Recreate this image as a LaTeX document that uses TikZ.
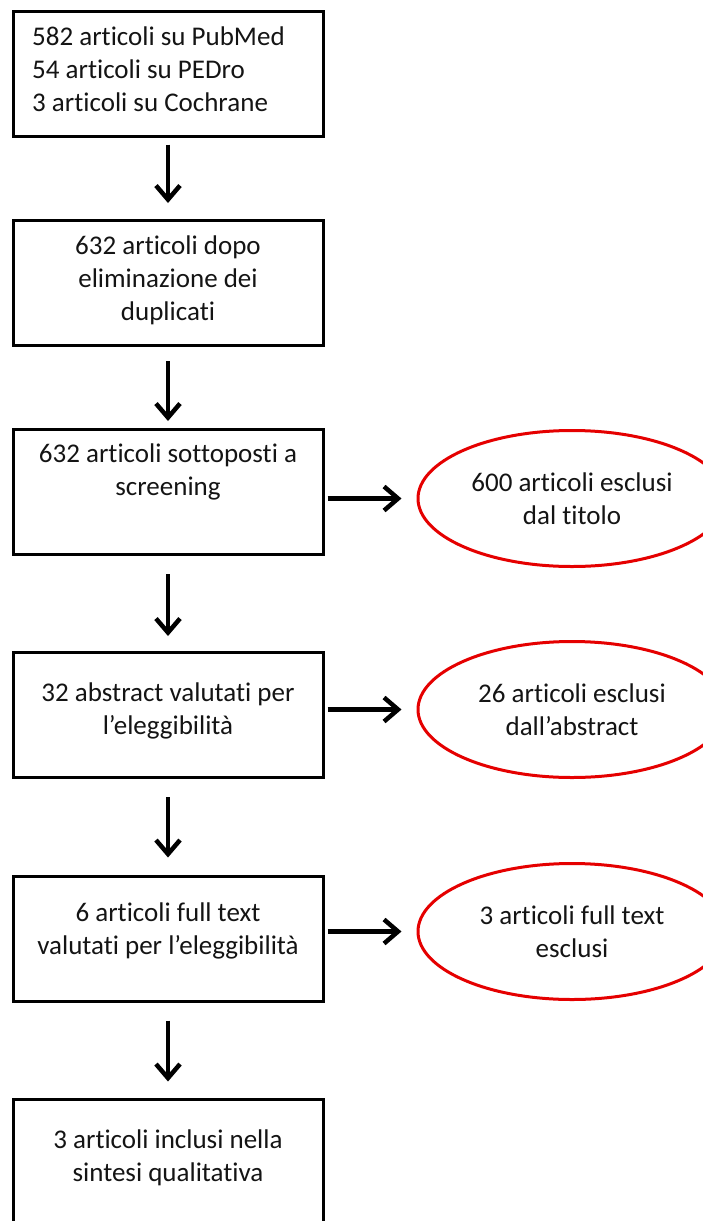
\documentclass[tikz,border=0pt]{standalone}
\usepackage{fontspec}
\setmainfont[Ligatures=NoCommon]{Carlito}
\usetikzlibrary{arrows.meta,shapes.geometric}
\tikzset{
  boxshape/.style={draw=black, line width=3pt, minimum width=310pt, minimum height=125pt, inner sep=0pt},
  boxtext/.style={inner sep=0pt, text=black!92, font=\fontsize{27}{33}\selectfont},
  excl/.style={ellipse, draw=red!90!black, line width=3pt, minimum width=308pt, minimum height=136pt, inner sep=0pt, align=center, text=black!92, font=\fontsize{27}{33}\selectfont},
  arr/.style={line width=4.5pt, -{Straight Barb[length=14pt,width=24pt,line width=4.5pt]}},
}
\begin{document}
\begin{tikzpicture}[x=1pt,y=-1pt]
\useasboundingbox (0,0) rectangle (703,1221);
\clip (0,0) rectangle (703,1221);
% boxes
\node[boxshape] (b1) at (168,73.5) {};
\node[boxshape] (b2) at (168,283) {};
\node[boxshape] (b3) at (168,492) {};
\node[boxshape] (b4) at (168,715) {};
\node[boxshape] (b5) at (168,938.5) {};
\node[boxshape] (b6) at (168,1161.5) {};
% texts
\node[boxtext, anchor=west, align=left] (t1) at (32,69) {582 articoli su PubMed\\54 articoli su PEDro\\3 articoli su Cochrane};
\node[boxtext, align=center] (t2) at (168,280) {632 articoli dopo\\eliminazione dei\\duplicati};
\node[boxtext, align=center] (t3) at (168,472) {632 articoli sottoposti a\\screening};
\node[boxtext, align=center] (t4) at (168,711) {32 abstract valutati per\\l’eleggibilità};
\node[boxtext, align=center] (t5) at (168,931) {6 articoli full text\\valutati per l’eleggibilità};
\node[boxtext, align=center] (t6) at (168,1158) {3 articoli inclusi nella\\sintesi qualitativa};
% ellipses
\node[excl] (e1) at (572,498.5) {600 articoli esclusi\\dal titolo};
\node[excl] (e2) at (572,709.5) {26 articoli esclusi\\dall’abstract};
\node[excl] (e3) at (572,931.5) {3 articoli full text\\esclusi};
% down arrows
\draw[arr, shorten <=7pt, shorten >=16pt] (b1) -- (b2);
\draw[arr, shorten <=14pt, shorten >=7pt] (b2) -- (b3);
\draw[arr, shorten <=18pt, shorten >=15pt] (b3) -- (b4);
\draw[arr, shorten <=18pt, shorten >=17pt] (b4) -- (b5);
\draw[arr, shorten <=18pt, shorten >=16pt] (b5) -- (b6);
% right arrows
\draw[arr, shorten <=3pt, shorten >=15pt] (b3.east |- e1) -- (e1.west);
\draw[arr, shorten <=3pt, shorten >=15pt] (b4.east |- e2) -- (e2.west);
\draw[arr, shorten <=3pt, shorten >=15pt] (b5.east |- e3) -- (e3.west);
\end{tikzpicture}
\end{document}
